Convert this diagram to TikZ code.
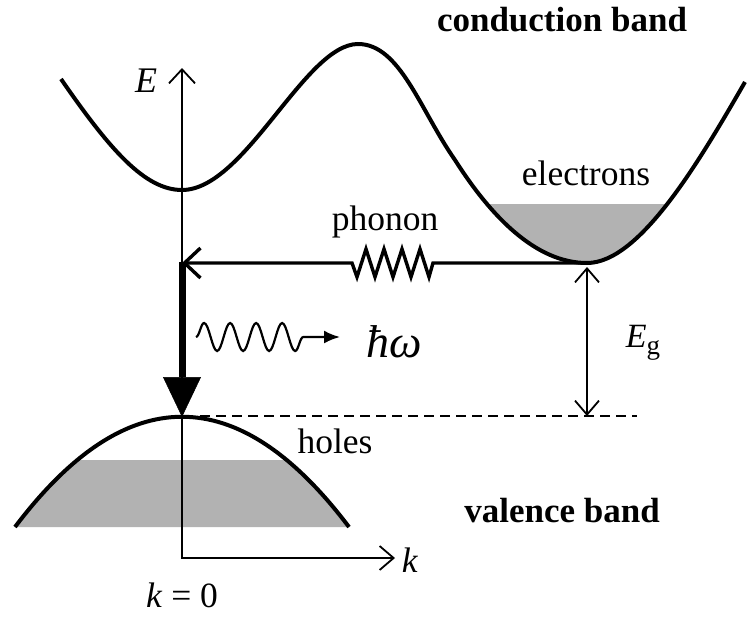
\documentclass[tikz,border=0pt]{standalone}
\usepackage{fontspec}
\setmainfont{Liberation Serif}
\usetikzlibrary{arrows.meta,decorations.pathmorphing}
\begin{document}
\begin{tikzpicture}[x=1pt,y=-1pt,
  band/.style={line width=4pt},
  axis/.style={line width=1.8pt},
  dbarb/.style={{Straight Barb[length=14pt,width=24pt,line width=1.8pt]}-{Straight Barb[length=14pt,width=24pt,line width=1.8pt]}},
  phon/.style={line width=3.4pt},
  fillc/.style={fill=black!30},
  lbl/.style={font=\fontsize{35.5}{40}\selectfont, inner sep=0pt, anchor=base}
]
\useasboundingbox (0,0) rectangle (750,619);

% coordinates
\coordinate (O) at (182,558);
\coordinate (Etop) at (182,68);
\coordinate (kend) at (395,558);
\coordinate (turn) at (182,263);
\coordinate (vtop) at (182,417);
\coordinate (cmin) at (587,263);
\coordinate (zs) at (352,263);
\coordinate (ze) at (433,263);
\coordinate (egtop) at (587,267);
\coordinate (egbot) at (587,416);
\coordinate (dstart) at (200,416);
\coordinate (dend) at (637,416);
\coordinate (ws) at (196,337);
\coordinate (we) at (340,337);

% fills
\begin{scope}
\clip (0,460) rectangle (400,527);
\fill[fillc] (15,527) .. controls (126,380) and (238,380) .. (349,527) -- cycle;
\end{scope}
\begin{scope}
\clip (450,204) rectangle (720,270);
\fill[fillc] (455,160) .. controls (490,215) and (535,263) .. (587,263)
  .. controls (640,263) and (700,160) .. (745,82) -- cycle;
\end{scope}

% conduction band
\draw[band] (61,79) .. controls (110,150) and (145,190) .. (182,190)
  .. controls (245,190) and (305,44) .. (358,44)
  .. controls (400,44) and (420,110) .. (455,160)
  .. controls (490,215) and (535,263) .. (587,263)
  .. controls (640,263) and (700,160) .. (745,82);

% valence band
\draw[band] (15,527) .. controls (126,380) and (238,380) .. (349,527);

% axes
\draw[axis, line join=miter, {Straight Barb[length=14pt,width=26pt,line width=1.8pt]}-{Straight Barb[length=14pt,width=24pt,line width=1.8pt]}] (Etop) -- (O) -- (kend);

% dashed level
\draw[line width=1.8pt, dash pattern=on 10pt off 6pt] (dstart) -- (dend);

% gap arrow
\draw[axis, dbarb] (egtop) -- (egbot);

% phonon path
\draw[phon, line join=miter, -{Straight Barb[length=16pt,width=30pt,line width=3.4pt]}]
  (cmin) -- (ze) -- (429,277) -- (420,249) -- (411,277) -- (402,249) -- (393,277)
  -- (384,249) -- (375,277) -- (366,249) -- (357,277) -- (zs) -- (turn);

% photon emission
\draw[line width=7pt, -{Triangle[length=40pt,width=38pt,line width=0.5pt]}] ([yshift=1.5pt]turn) -- (vtop);
\draw[line width=2.2pt, decoration={snake, segment length=26pt, amplitude=14pt, post length=24pt}, decorate, -{Latex[length=16pt,width=13pt]}] (ws) -- (we);

% labels
\node[lbl, font=\fontsize{35}{40}\selectfont\bfseries] (cb) at (562,31) {conduction band};
\node[lbl, font=\fontsize{35}{40}\selectfont\bfseries] (vb) at (562,522) {valence band};
\node[lbl] (el) at (586,185) {electrons};
\node[lbl] (ph) at (385,230) {phonon};
\node[lbl] (ho) at (335,453) {holes};
\node[lbl, font=\fontsize{46}{50}\selectfont] (hw) at (394,357) {\textit{ħω}};
\node[lbl, font=\fontsize{34}{36}\selectfont] (eg) at (643,347) {\textit{E}\raisebox{-7pt}{\fontsize{27}{30}\selectfont g}};
\node[lbl, font=\fontsize{36}{40}\selectfont] (El) at (146,92) {\textit{E}};
\node[lbl] (kl) at (410,572) {\textit{k}};
\node[lbl] (k0) at (182,607) {\textit{k} = 0};
\end{tikzpicture}
\end{document}
